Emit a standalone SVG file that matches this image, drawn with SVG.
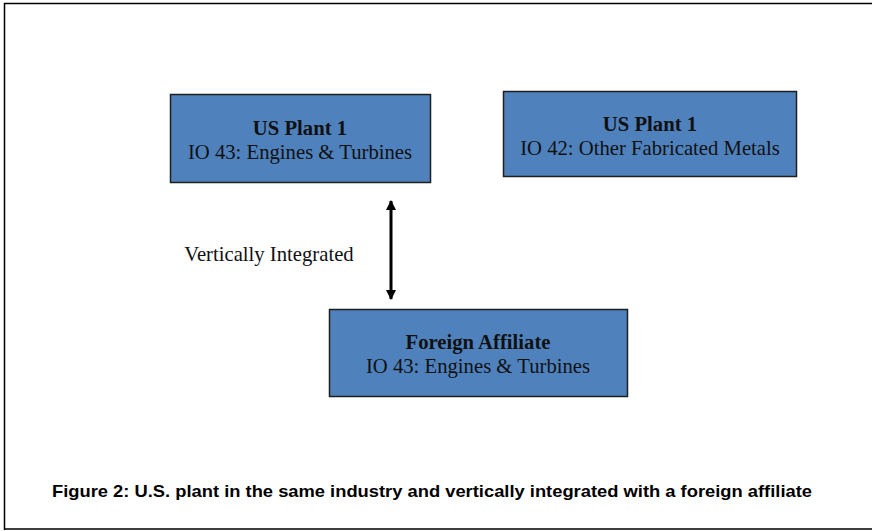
<svg xmlns="http://www.w3.org/2000/svg" width="872" height="531" viewBox="0 0 872 531">
<style>
.box{fill:#4f81bd;stroke:#1f1f1f;stroke-width:1.5}
.t{font-family:"Liberation Serif",serif;font-size:20.7px;fill:#111;text-anchor:middle}
.b{font-weight:bold}
.cap{font-family:"Liberation Sans",sans-serif;font-weight:bold;font-size:17px;fill:#000}
</style>
<defs>
<marker id="ah" viewBox="0 0 10 10" refX="9" refY="5" markerWidth="11" markerHeight="10" markerUnits="userSpaceOnUse" orient="auto-start-reverse">
<path d="M0,0 L10,5 L0,10 z" fill="#000"/>
</marker>
</defs>
<rect width="872" height="531" fill="#fff"/>
<path d="M4.5,530 V3.5 H872 M4.5,529 H872" fill="none" stroke="#000" stroke-width="1.5"/>
<g id="n1">
<rect class="box" x="170.5" y="94.5" width="260" height="88"/>
<text class="t b" x="300" y="135">US Plant 1</text>
<text class="t" x="300" y="159">IO 43: Engines &amp; Turbines</text>
</g>
<g id="n2">
<rect class="box" x="503.5" y="91.5" width="293" height="85"/>
<text class="t b" x="650" y="131">US Plant 1</text>
<text class="t" x="650" y="155">IO 42: Other Fabricated Metals</text>
</g>
<g id="n3">
<rect class="box" x="329.5" y="309.5" width="298" height="87"/>
<text class="t b" x="478" y="349">Foreign Affiliate</text>
<text class="t" x="478" y="373">IO 43: Engines &amp; Turbines</text>
</g>
<g id="connectors">
<line x1="391" y1="201" x2="391" y2="299" stroke="#000" stroke-width="3" marker-start="url(#ah)" marker-end="url(#ah)"/>
</g>
<text class="t" x="269" y="261">Vertically Integrated</text>
<text class="cap" x="52" y="497" textLength="760" lengthAdjust="spacingAndGlyphs">Figure 2: U.S. plant in the same industry and vertically integrated with a foreign affiliate</text>
</svg>
